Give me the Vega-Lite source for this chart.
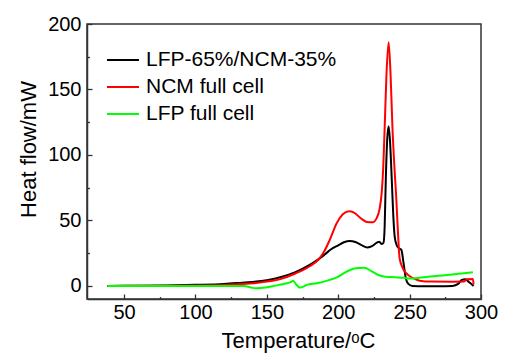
{
  "$schema": "https://vega.github.io/schema/vega-lite/v6.json",
  "width": 394,
  "height": 275,
  "autosize": {"type": "none"},
  "padding": {"left": 87, "top": 24, "right": 34, "bottom": 62},
  "background": "white",
  "config": {
    "view": {"stroke": "#333333", "strokeWidth": 1.5},
    "font": "Liberation Sans",
    "axis": {
      "labelFont": "Liberation Sans",
      "labelFontSize": 20,
      "labelColor": "#000000",
      "titleFont": "Liberation Sans",
      "titleFontSize": 22,
      "titleFontWeight": "normal",
      "titleColor": "#000000",
      "domainColor": "#333333",
      "domainWidth": 1.5,
      "tickColor": "#333333",
      "tickWidth": 1.3,
      "grid": false
    }
  },
  "data": {
    "values": [
      {"s": "LFP-65%/NCM-35%", "t": 38, "v": 0},
      {"s": "LFP-65%/NCM-35%", "t": 60, "v": 0.1},
      {"s": "LFP-65%/NCM-35%", "t": 80, "v": 0.3},
      {"s": "LFP-65%/NCM-35%", "t": 100, "v": 0.8},
      {"s": "LFP-65%/NCM-35%", "t": 120, "v": 1.5},
      {"s": "LFP-65%/NCM-35%", "t": 130, "v": 2.2},
      {"s": "LFP-65%/NCM-35%", "t": 140, "v": 3},
      {"s": "LFP-65%/NCM-35%", "t": 150, "v": 4.4},
      {"s": "LFP-65%/NCM-35%", "t": 160, "v": 6.8},
      {"s": "LFP-65%/NCM-35%", "t": 170, "v": 10.5},
      {"s": "LFP-65%/NCM-35%", "t": 180, "v": 16},
      {"s": "LFP-65%/NCM-35%", "t": 185, "v": 19.5},
      {"s": "LFP-65%/NCM-35%", "t": 190, "v": 23.5},
      {"s": "LFP-65%/NCM-35%", "t": 195, "v": 28},
      {"s": "LFP-65%/NCM-35%", "t": 200, "v": 31},
      {"s": "LFP-65%/NCM-35%", "t": 204, "v": 33.3},
      {"s": "LFP-65%/NCM-35%", "t": 208, "v": 34.3},
      {"s": "LFP-65%/NCM-35%", "t": 212, "v": 33.5},
      {"s": "LFP-65%/NCM-35%", "t": 216, "v": 31.3},
      {"s": "LFP-65%/NCM-35%", "t": 220.5, "v": 29.3},
      {"s": "LFP-65%/NCM-35%", "t": 224, "v": 30.5},
      {"s": "LFP-65%/NCM-35%", "t": 227, "v": 33},
      {"s": "LFP-65%/NCM-35%", "t": 228.7, "v": 33.8},
      {"s": "LFP-65%/NCM-35%", "t": 230.5, "v": 32},
      {"s": "LFP-65%/NCM-35%", "t": 231.7, "v": 33},
      {"s": "LFP-65%/NCM-35%", "t": 232.5, "v": 45},
      {"s": "LFP-65%/NCM-35%", "t": 233.3, "v": 81},
      {"s": "LFP-65%/NCM-35%", "t": 234.3, "v": 112},
      {"s": "LFP-65%/NCM-35%", "t": 235.3, "v": 122},
      {"s": "LFP-65%/NCM-35%", "t": 236.3, "v": 110},
      {"s": "LFP-65%/NCM-35%", "t": 237.5, "v": 81},
      {"s": "LFP-65%/NCM-35%", "t": 238.5, "v": 55},
      {"s": "LFP-65%/NCM-35%", "t": 239.5, "v": 38},
      {"s": "LFP-65%/NCM-35%", "t": 241, "v": 31},
      {"s": "LFP-65%/NCM-35%", "t": 242.5, "v": 28.8},
      {"s": "LFP-65%/NCM-35%", "t": 244.2, "v": 27.5},
      {"s": "LFP-65%/NCM-35%", "t": 245.8, "v": 17},
      {"s": "LFP-65%/NCM-35%", "t": 247.3, "v": 6},
      {"s": "LFP-65%/NCM-35%", "t": 248.8, "v": 2},
      {"s": "LFP-65%/NCM-35%", "t": 252, "v": 0},
      {"s": "LFP-65%/NCM-35%", "t": 260, "v": -0.3},
      {"s": "LFP-65%/NCM-35%", "t": 270, "v": -0.3},
      {"s": "LFP-65%/NCM-35%", "t": 280, "v": 0},
      {"s": "LFP-65%/NCM-35%", "t": 284, "v": 1.5},
      {"s": "LFP-65%/NCM-35%", "t": 286.5, "v": 4.5},
      {"s": "LFP-65%/NCM-35%", "t": 289, "v": 5},
      {"s": "LFP-65%/NCM-35%", "t": 291.5, "v": 3},
      {"s": "LFP-65%/NCM-35%", "t": 294.8, "v": 0},

      {"s": "NCM full cell", "t": 38, "v": 0},
      {"s": "NCM full cell", "t": 80, "v": 0.1},
      {"s": "NCM full cell", "t": 100, "v": 0.3},
      {"s": "NCM full cell", "t": 120, "v": 0.7},
      {"s": "NCM full cell", "t": 130, "v": 1.2},
      {"s": "NCM full cell", "t": 140, "v": 2},
      {"s": "NCM full cell", "t": 150, "v": 3.3},
      {"s": "NCM full cell", "t": 160, "v": 5.5},
      {"s": "NCM full cell", "t": 170, "v": 9.5},
      {"s": "NCM full cell", "t": 180, "v": 15},
      {"s": "NCM full cell", "t": 186, "v": 20},
      {"s": "NCM full cell", "t": 190, "v": 26},
      {"s": "NCM full cell", "t": 194, "v": 35},
      {"s": "NCM full cell", "t": 199, "v": 48},
      {"s": "NCM full cell", "t": 203, "v": 54.5},
      {"s": "NCM full cell", "t": 207.5, "v": 57},
      {"s": "NCM full cell", "t": 211, "v": 56},
      {"s": "NCM full cell", "t": 216, "v": 51.5},
      {"s": "NCM full cell", "t": 220, "v": 48.8},
      {"s": "NCM full cell", "t": 224, "v": 48.6},
      {"s": "NCM full cell", "t": 227, "v": 52},
      {"s": "NCM full cell", "t": 229, "v": 59},
      {"s": "NCM full cell", "t": 230.5, "v": 72},
      {"s": "NCM full cell", "t": 231.5, "v": 90},
      {"s": "NCM full cell", "t": 232.5, "v": 120},
      {"s": "NCM full cell", "t": 233.8, "v": 162},
      {"s": "NCM full cell", "t": 235.3, "v": 186},
      {"s": "NCM full cell", "t": 236.7, "v": 160},
      {"s": "NCM full cell", "t": 238, "v": 120},
      {"s": "NCM full cell", "t": 239.5, "v": 88},
      {"s": "NCM full cell", "t": 240.5, "v": 70},
      {"s": "NCM full cell", "t": 241.5, "v": 48},
      {"s": "NCM full cell", "t": 243, "v": 21},
      {"s": "NCM full cell", "t": 245, "v": 14},
      {"s": "NCM full cell", "t": 247.6, "v": 9.7},
      {"s": "NCM full cell", "t": 252.5, "v": 5.9},
      {"s": "NCM full cell", "t": 257, "v": 4},
      {"s": "NCM full cell", "t": 265, "v": 3.3},
      {"s": "NCM full cell", "t": 280, "v": 3.2},
      {"s": "NCM full cell", "t": 288, "v": 3.3},
      {"s": "NCM full cell", "t": 290, "v": 5},
      {"s": "NCM full cell", "t": 294.3, "v": 5.2},
      {"s": "NCM full cell", "t": 294.8, "v": 1},

      {"s": "LFP full cell", "t": 38.3, "v": 0},
      {"s": "LFP full cell", "t": 134, "v": 0},
      {"s": "LFP full cell", "t": 139, "v": -1.3},
      {"s": "LFP full cell", "t": 143, "v": -1.8},
      {"s": "LFP full cell", "t": 149, "v": -1.3},
      {"s": "LFP full cell", "t": 155, "v": 0},
      {"s": "LFP full cell", "t": 160, "v": 1},
      {"s": "LFP full cell", "t": 164, "v": 2},
      {"s": "LFP full cell", "t": 167, "v": 3},
      {"s": "LFP full cell", "t": 168.3, "v": 4},
      {"s": "LFP full cell", "t": 171, "v": 0.5},
      {"s": "LFP full cell", "t": 173, "v": -1.3},
      {"s": "LFP full cell", "t": 175.5, "v": -0.5},
      {"s": "LFP full cell", "t": 178, "v": 0.8},
      {"s": "LFP full cell", "t": 185, "v": 2},
      {"s": "LFP full cell", "t": 194, "v": 4.6},
      {"s": "LFP full cell", "t": 199, "v": 6.5},
      {"s": "LFP full cell", "t": 206, "v": 11},
      {"s": "LFP full cell", "t": 212, "v": 13.5},
      {"s": "LFP full cell", "t": 218.5, "v": 13.8},
      {"s": "LFP full cell", "t": 223, "v": 11.5},
      {"s": "LFP full cell", "t": 228, "v": 8.3},
      {"s": "LFP full cell", "t": 233, "v": 7},
      {"s": "LFP full cell", "t": 240, "v": 6.6},
      {"s": "LFP full cell", "t": 246, "v": 6.2},
      {"s": "LFP full cell", "t": 250, "v": 5.6},
      {"s": "LFP full cell", "t": 258, "v": 6.4},
      {"s": "LFP full cell", "t": 268, "v": 7.5},
      {"s": "LFP full cell", "t": 278, "v": 8.5},
      {"s": "LFP full cell", "t": 288, "v": 9.6},
      {"s": "LFP full cell", "t": 294.3, "v": 10.4}
    ]
  },
  "mark": {"type": "line", "strokeWidth": 2, "interpolate": "monotone", "clip": true},
  "encoding": {
    "x": {
      "field": "t",
      "type": "quantitative",
      "scale": {"domain": [24, 300], "nice": false, "zero": false},
      "axis": {
        "title": "Temperature/ᵒC",
        "values": [50, 75, 100, 125, 150, 175, 200, 225, 250, 275, 300],
        "labelExpr": "datum.value % 50 === 0 ? datum.label : ''",
        "tickSize": -5,
        "tickDash": {"condition": {"test": "datum.value % 50 !== 0", "value": [2.5, 20]}, "value": [10, 0]},
        "labelPadding": 8,
        "labelFlush": false,
        "titleX": 211,
        "titleY": 48,
        "titleBaseline": "alphabetic"
      }
    },
    "y": {
      "field": "v",
      "type": "quantitative",
      "scale": {"domain": [-10, 200], "nice": false, "zero": false},
      "axis": {
        "title": "Heat flow/mW",
        "values": [0, 25, 50, 75, 100, 125, 150, 175, 200],
        "labelExpr": "datum.value % 50 === 0 ? datum.label : ''",
        "tickSize": -5,
        "tickDash": {"condition": {"test": "datum.value % 50 !== 0", "value": [2.5, 20]}, "value": [10, 0]},
        "labelPadding": 11,
        "labelFlush": false,
        "titleX": -59,
        "titleY": 125,
        "titleAngle": -90,
        "titleAlign": "center",
        "titleBaseline": "middle"
      }
    },
    "color": {
      "field": "s",
      "type": "nominal",
      "scale": {
        "domain": ["LFP-65%/NCM-35%", "NCM full cell", "LFP full cell"],
        "range": ["#000000", "#ff0000", "#00ff00"]
      },
      "legend": {
        "title": null,
        "orient": "none",
        "legendX": 19,
        "legendY": 19,
        "symbolType": "stroke",
        "symbolStrokeWidth": 2,
        "symbolSize": 1024,
        "labelFont": "Liberation Sans",
        "labelFontSize": 21,
        "labelColor": "#000000",
        "labelOffset": 6,
        "rowPadding": 0,
        "labelLimit": 400
      }
    }
  }
}
